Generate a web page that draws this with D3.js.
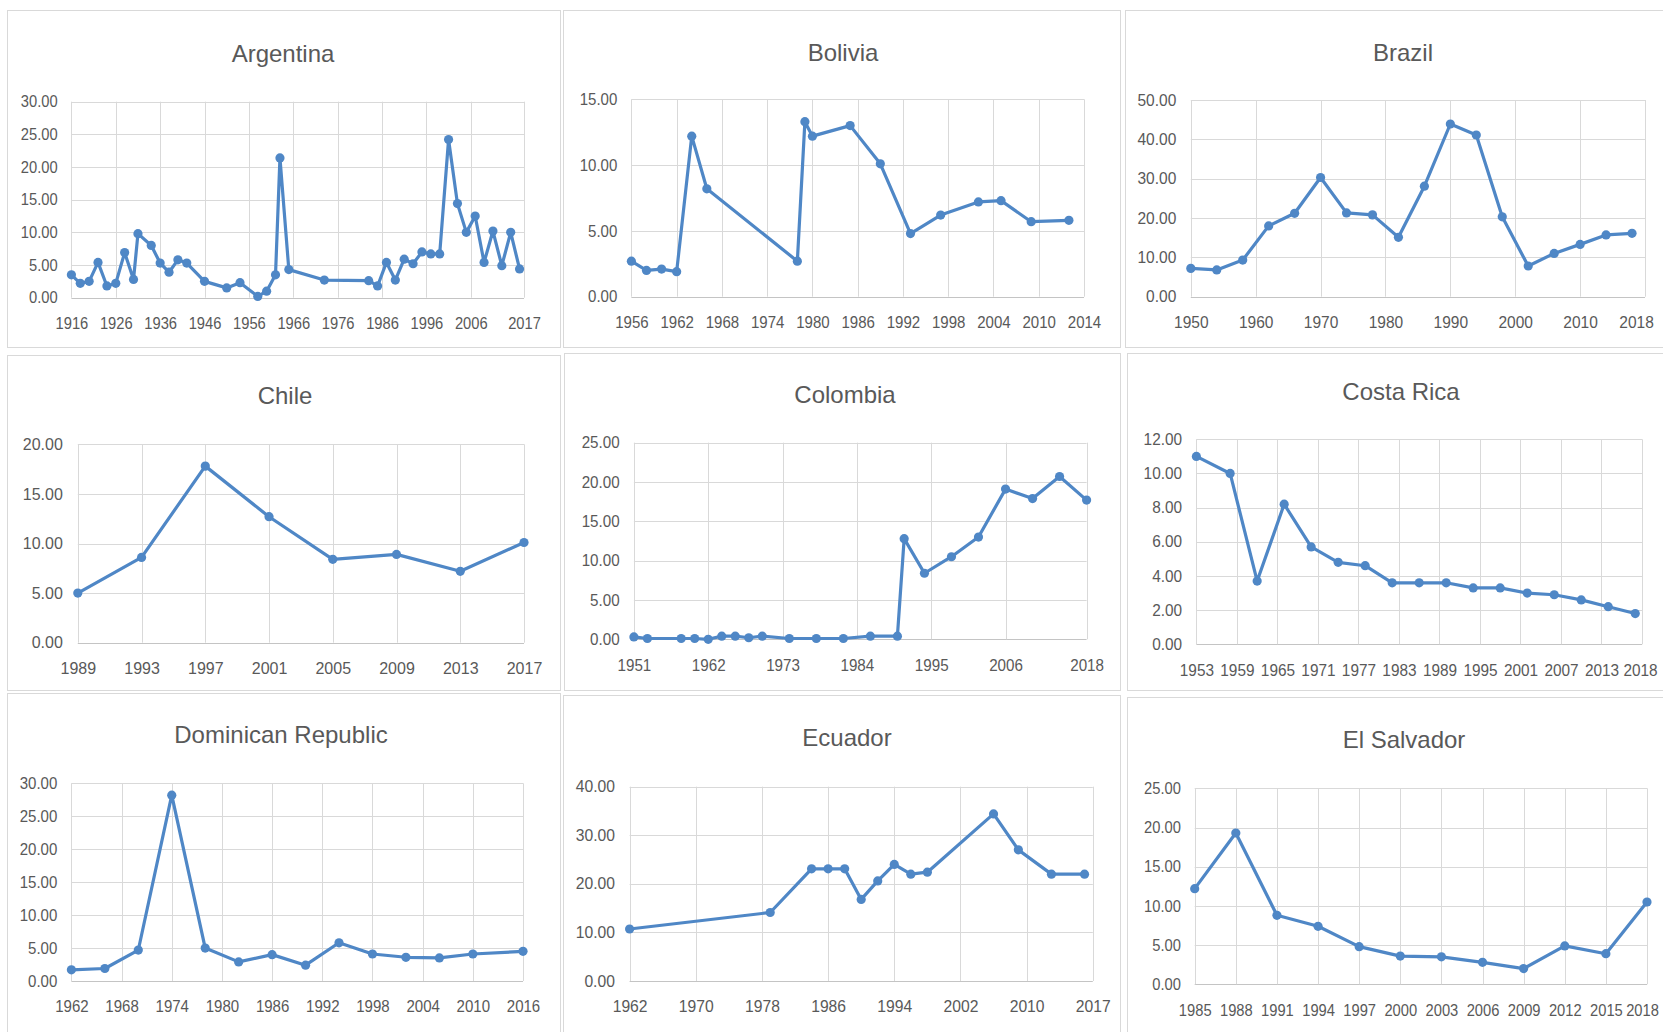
<!DOCTYPE html>
<html>
<head>
<meta charset="utf-8">
<script src="https://cdn.jsdelivr.net/npm/d3@7"></script>
<style>
  body { margin: 0; background: #ffffff; }
  svg { display: block; }
</style>
</head>
<body>
<svg id="chart" width="1663" height="1032"></svg>
<script>
// ---------------- DATA ----------------
const argentinaYears  = [1916,1918,1920,1922,1924,1926,1928,1930,1931,1934,1936,1938,1940,1942,1946,1951,1954,1958,1960,1962,1963,1965,1973,1983,1985,1987,1989,1991,1993,1995,1997,1999,2001,2003,2005,2007,2009,2011,2013,2015,2017];
const argentinaValues = [3.5,2.2,2.5,5.4,1.8,2.2,6.9,2.8,9.8,8.0,5.3,3.9,5.8,5.3,2.5,1.5,2.3,0.2,1.0,3.5,21.4,4.3,2.7,2.6,1.8,5.4,2.7,5.9,5.2,7.0,6.7,6.7,24.2,14.4,10.0,12.5,5.4,10.2,4.9,10.0,4.4];
const argentinaXTicks  = [1916,1926,1936,1946,1956,1966,1976,1986,1996,2006,2018];
const argentinaXLabels = ["1916","1926","1936","1946","1956","1966","1976","1986","1996","2006","2017"];
const argentinaYTicks  = [0,5,10,15,20,25,30];

const boliviaYears  = [1956,1958,1960,1962,1964,1966,1978,1979,1980,1985,1989,1993,1997,2002,2005,2009,2014];
const boliviaValues = [2.7,2.0,2.1,1.9,12.2,8.2,2.7,13.3,12.2,13.0,10.1,4.8,6.2,7.2,7.3,5.7,5.8];
const boliviaXTicks  = [1956,1962,1968,1974,1980,1986,1992,1998,2004,2010,2016];
const boliviaXLabels = ["1956","1962","1968","1974","1980","1986","1992","1998","2004","2010","2014"];
const boliviaYTicks  = [0,5,10,15];

const brazilYears  = [1950,1954,1958,1962,1966,1970,1974,1978,1982,1986,1990,1994,1998,2002,2006,2010,2014,2018];
const brazilValues = [7.2,6.8,9.3,18.0,21.2,30.3,21.3,20.8,15.1,28.1,43.9,41.1,20.3,7.8,11.0,13.3,15.7,16.1];
const brazilXTicks  = [1950,1960,1970,1980,1990,2000,2010,2020];
const brazilXLabels = ["1950","1960","1970","1980","1990","2000","2010","2018"];
const brazilYTicks  = [0,10,20,30,40,50];

const chileYears  = [1989,1993,1997,2001,2005,2009,2013,2017];
const chileValues = [5.0,8.6,17.8,12.7,8.4,8.9,7.2,10.1];
const chileXTicks  = [1989,1993,1997,2001,2005,2009,2013,2017];
const chileXLabels = ["1989","1993","1997","2001","2005","2009","2013","2017"];
const chileYTicks  = [0,5,10,15,20];

const colombiaYears  = [1951,1953,1958,1960,1962,1964,1966,1968,1970,1974,1978,1982,1986,1990,1991,1994,1998,2002,2006,2010,2014,2018];
const colombiaValues = [0.3,0.1,0.1,0.1,0.0,0.4,0.4,0.2,0.4,0.1,0.1,0.1,0.4,0.4,12.8,8.4,10.5,13.0,19.1,17.9,20.7,17.7];
const colombiaXTicks  = [1951,1962,1973,1984,1995,2006,2018];
const colombiaXLabels = ["1951","1962","1973","1984","1995","2006","2018"];
const colombiaYTicks  = [0,5,10,15,20,25];

const costaRicaYears  = [1953,1958,1962,1966,1970,1974,1978,1982,1986,1990,1994,1998,2002,2006,2010,2014,2018];
const costaRicaValues = [11.0,10.0,3.7,8.2,5.7,4.8,4.6,3.6,3.6,3.6,3.3,3.3,3.0,2.9,2.6,2.2,1.8];
const costaRicaXTicks  = [1953,1959,1965,1971,1977,1983,1989,1995,2001,2007,2013,2019];
const costaRicaXLabels = ["1953","1959","1965","1971","1977","1983","1989","1995","2001","2007","2013","2018"];
const costaRicaYTicks  = [0,2,4,6,8,10,12];

const dominicanYears  = [1962,1966,1970,1974,1978,1982,1986,1990,1994,1998,2002,2006,2010,2016];
const dominicanValues = [1.7,1.9,4.7,28.2,5.0,2.9,4.0,2.4,5.8,4.1,3.6,3.5,4.1,4.5];
const dominicanXTicks  = [1962,1968,1974,1980,1986,1992,1998,2004,2010,2016];
const dominicanXLabels = ["1962","1968","1974","1980","1986","1992","1998","2004","2010","2016"];
const dominicanYTicks  = [0,5,10,15,20,25,30];

const ecuadorYears  = [1962,1979,1984,1986,1988,1990,1992,1994,1996,1998,2006,2009,2013,2017];
const ecuadorValues = [10.7,14.1,23.1,23.1,23.1,16.8,20.6,24.0,22.0,22.4,34.4,27.0,22.0,22.0];
const ecuadorXTicks  = [1962,1970,1978,1986,1994,2002,2010,2018];
const ecuadorXLabels = ["1962","1970","1978","1986","1994","2002","2010","2017"];
const ecuadorYTicks  = [0,10,20,30,40];

const salvadorYears  = [1985,1988,1991,1994,1997,2000,2003,2006,2009,2012,2015,2018];
const salvadorValues = [12.2,19.3,8.8,7.4,4.8,3.6,3.5,2.8,2.0,4.9,3.9,10.5];
const salvadorXTicks  = [1985,1988,1991,1994,1997,2000,2003,2006,2009,2012,2015,2018];
const salvadorXLabels = ["1985","1988","1991","1994","1997","2000","2003","2006","2009","2012","2015","2018"];
const salvadorYTicks  = [0,5,10,15,20,25];

const titles = ["Argentina","Bolivia","Brazil","Chile","Colombia","Costa Rica","Dominican Republic","Ecuador","El Salvador"];

// ---------------- LAYOUT (positions, separate from data) ----------------
const layout = [
  {box:[7,10,553,337],    plot:[71.4,101.7,524,297.7],  title:[283,62],  sx:0.92, lastShift:0},
  {box:[563,10,557,337],  plot:[631.4,99.3,1084,296.7], title:[843,61],  sx:0.94, lastShift:0},
  {box:[1125,10,560,337], plot:[1190.8,100,1645,296.7], title:[1403,61], sx:0.97, lastShift:-9},
  {box:[7,355,553,335],   plot:[77.8,444.3,524,642.7],  title:[285,404], sx:1.0,  lastShift:0},
  {box:[564,353,556,337], plot:[633.9,442.7,1086.6,639.3], title:[845,403], sx:0.95, lastShift:0},
  {box:[1127,353,560,337],plot:[1196.4,439.3,1642,644.3],title:[1401,400], sx:0.96, lastShift:-2},
  {box:[7,693,553,345],   plot:[71.4,783.3,523,981],    title:[281,743], sx:0.94, lastShift:0},
  {box:[563,695,557,345], plot:[629.6,786.7,1092.8,981],title:[847,746], sx:0.98, lastShift:0},
  {box:[1127,697,560,345],plot:[1194.7,788.3,1647,984.3],title:[1404,748], sx:0.92, lastShift:-5}
];

const series = [
  [argentinaYears, argentinaValues, argentinaXTicks, argentinaXLabels, argentinaYTicks],
  [boliviaYears, boliviaValues, boliviaXTicks, boliviaXLabels, boliviaYTicks],
  [brazilYears, brazilValues, brazilXTicks, brazilXLabels, brazilYTicks],
  [chileYears, chileValues, chileXTicks, chileXLabels, chileYTicks],
  [colombiaYears, colombiaValues, colombiaXTicks, colombiaXLabels, colombiaYTicks],
  [costaRicaYears, costaRicaValues, costaRicaXTicks, costaRicaXLabels, costaRicaYTicks],
  [dominicanYears, dominicanValues, dominicanXTicks, dominicanXLabels, dominicanYTicks],
  [ecuadorYears, ecuadorValues, ecuadorXTicks, ecuadorXLabels, ecuadorYTicks],
  [salvadorYears, salvadorValues, salvadorXTicks, salvadorXLabels, salvadorYTicks]
];

// ---------------- STYLE ----------------
const LINE_COLOR = "#4f87c6";
const GRID_COLOR = "#d9d9d9";
const AXIS_COLOR = "#c4c4c4";
const TEXT_COLOR = "#595959";
const FONT = "'Liberation Sans', Arial, sans-serif";

const svg = d3.select("#chart");
svg.append("rect").attr("width", 1663).attr("height", 1032).attr("fill", "#ffffff");

series.forEach((s, i) => {
  const [years, values, xTicks, xLabels, yTicks] = s;
  const L = layout[i];
  const [bx, by, bw, bh] = L.box;
  const [pl, pt, pr, pb] = L.plot;

  // panel frame
  svg.append("rect")
    .attr("x", bx + 0.5).attr("y", by + 0.5)
    .attr("width", bw).attr("height", bh)
    .attr("fill", "none").attr("stroke", GRID_COLOR).attr("stroke-width", 1);

  const x = d3.scaleLinear().domain([xTicks[0], xTicks[xTicks.length - 1]]).range([pl, pr]);
  const y = d3.scaleLinear().domain([0, yTicks[yTicks.length - 1]]).range([pb, pt]);

  const g = svg.append("g");

  // gridlines
  g.append("g").selectAll("line").data(yTicks).join("line")
    .attr("x1", pl).attr("x2", pr)
    .attr("y1", d => Math.round(y(d)) + 0.5).attr("y2", d => Math.round(y(d)) + 0.5)
    .attr("stroke", d => d === 0 ? AXIS_COLOR : GRID_COLOR).attr("stroke-width", 1);
  g.append("g").selectAll("line").data(xTicks).join("line")
    .attr("x1", d => Math.round(x(d)) + 0.5).attr("x2", d => Math.round(x(d)) + 0.5)
    .attr("y1", pt).attr("y2", pb)
    .attr("stroke", GRID_COLOR).attr("stroke-width", 1);

  const squeeze = `scale(${L.sx},1)`;

  // x axis
  const xAxis = d3.axisBottom(x).tickValues(xTicks)
    .tickFormat((d, k) => xLabels[k]).tickSize(0).tickPadding(20);
  const gx = g.append("g").attr("transform", `translate(0,${pb})`).call(xAxis);
  gx.select(".domain").remove();
  gx.selectAll("text")
    .attr("font-family", FONT).attr("font-size", 16).attr("fill", TEXT_COLOR)
    .attr("transform", (d, k) => k === xTicks.length - 1 && L.lastShift
      ? `translate(${L.lastShift},0) ${squeeze}` : squeeze);

  // y axis
  const yAxis = d3.axisLeft(y).tickValues(yTicks)
    .tickFormat(d3.format(".2f")).tickSize(0).tickPadding(15);
  const gy = g.append("g").attr("transform", `translate(${pl},0)`).call(yAxis);
  gy.select(".domain").remove();
  gy.selectAll("text")
    .attr("font-family", FONT).attr("font-size", 16).attr("fill", TEXT_COLOR)
    .attr("transform", squeeze);

  // title
  svg.append("text")
    .attr("x", L.title[0]).attr("y", L.title[1])
    .attr("text-anchor", "middle")
    .attr("font-family", FONT).attr("font-size", 24)
    .attr("fill", TEXT_COLOR)
    .text(titles[i]);

  // line + markers
  const pts = years.map((yr, k) => ({yr, v: values[k]}));
  const line = d3.line().x(d => x(d.yr)).y(d => y(d.v));
  g.append("path").datum(pts)
    .attr("d", line).attr("fill", "none")
    .attr("stroke", LINE_COLOR).attr("stroke-width", 3.2)
    .attr("stroke-linejoin", "round");
  g.append("g").selectAll("circle").data(pts).join("circle")
    .attr("cx", d => x(d.yr)).attr("cy", d => y(d.v)).attr("r", 4.6)
    .attr("fill", LINE_COLOR);
});
</script>
</body>
</html>
